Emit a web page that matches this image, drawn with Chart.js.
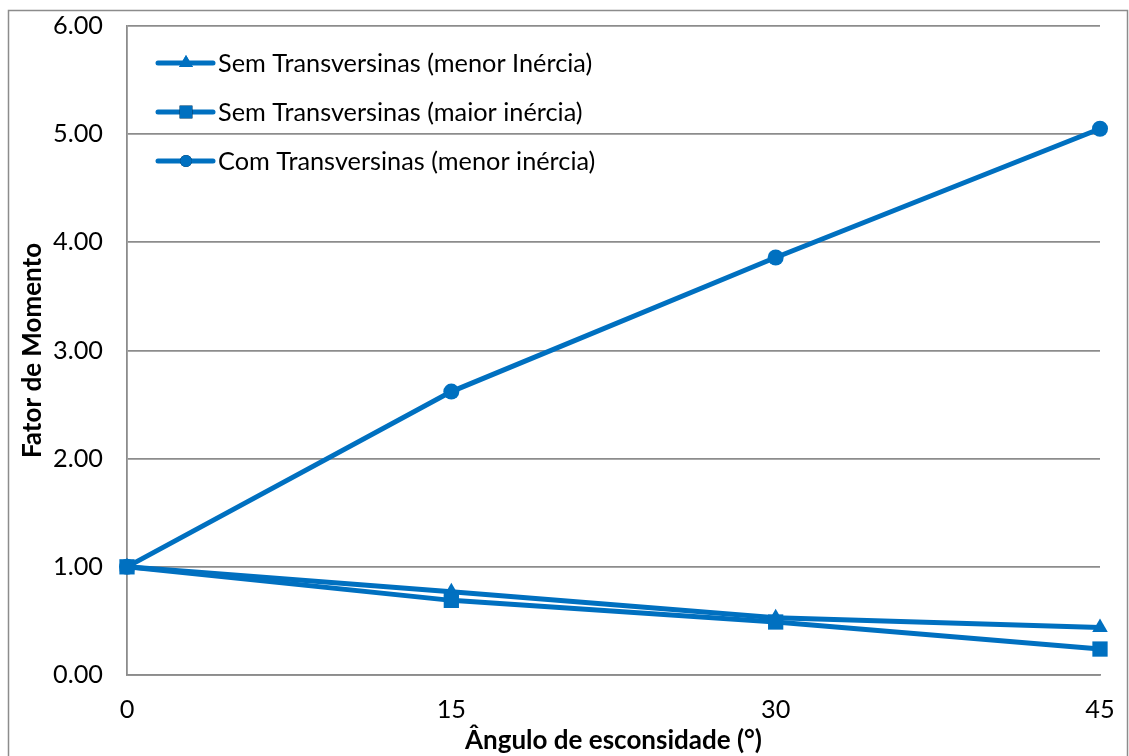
<!DOCTYPE html>
<html>
<head>
<meta charset="utf-8">
<title>Fator de Momento x Ângulo de esconsidade</title>
<style>
  html, body { margin: 0; padding: 0; background: #ffffff; }
  #wrap { width: 1129px; height: 756px; position: relative; }
</style>
<script src="https://cdn.jsdelivr.net/npm/chart.js@4/dist/chart.umd.min.js"></script>
</head>
<body>
<div id="wrap"><canvas id="chart" width="1129" height="756"></canvas></div>
<script>
// Ângulos de esconsidade (graus)
const angles = ['0', '15', '30', '45'];
// Fator de momento por configuração
const semTransvMenor = [1.00, 0.77, 0.53, 0.44];
const semTransvMaior = [1.00, 0.69, 0.49, 0.24];
const comTransvMenor = [1.00, 2.62, 3.86, 5.05];
// Nomes das séries
const seriesNames = [
  'Sem Transversinas (menor Inércia)',
  'Sem Transversinas (maior inércia)',
  'Com Transversinas (menor inércia)'
];
const yMin = 0, yMax = 6, yStep = 1;

const BLUE = '#0070C0';
const GRID = '#8c8c8c';
const CLEAR = 'rgba(0,0,0,0)';
const FONT = 'Lato, "Open Sans", sans-serif';
const TEXT_SIZE = 25.3;
const TITLE_SIZE = 26;

// Moldura externa e fundo branco
const framePlugin = {
  id: 'frame',
  beforeDraw(chart) {
    const ctx = chart.ctx;
    ctx.save();
    ctx.fillStyle = '#ffffff';
    ctx.fillRect(0, 0, chart.width, chart.height);
    ctx.strokeStyle = GRID;
    ctx.lineWidth = 1.5;
    ctx.strokeRect(8.5, 10.5, 1119, 800);
    ctx.restore();
  }
};

// Legenda desenhada dentro da área do gráfico
const insideLegend = {
  id: 'insideLegend',
  afterDatasetsDraw(chart) {
    const ctx = chart.ctx;
    const rows = [63, 112, 161];
    const x0 = 158, x1 = 213, xm = 186, xt = 218;
    ctx.save();
    chart.data.datasets.forEach((ds, i) => {
      const y = rows[i];
      ctx.strokeStyle = ds.borderColor;
      ctx.lineWidth = ds.borderWidth;
      ctx.lineCap = 'round';
      ctx.beginPath();
      ctx.moveTo(x0, y);
      ctx.lineTo(x1, y);
      ctx.stroke();
      Chart.helpers.drawPoint(ctx, {
        pointStyle: ds.pointStyle,
        radius: ds.legendRadius,
        borderWidth: 0,
        rotation: 0
      }, xm, y);
      ctx.fillStyle = ds.pointBackgroundColor;
      ctx.fill();
      ctx.fillStyle = '#000000';
      ctx.font = TEXT_SIZE + 'px ' + FONT;
      ctx.textAlign = 'left';
      ctx.textBaseline = 'middle';
      ctx.fillText(ds.label, xt, y + 1);
    });
    ctx.restore();
  }
};

function makeSeries(label, data, style, radius, legendRadius, order) {
  return {
    label: label,
    data: data,
    borderColor: BLUE,
    backgroundColor: BLUE,
    pointBackgroundColor: BLUE,
    pointBorderColor: BLUE,
    pointBorderWidth: 0,
    borderWidth: 5,
    pointStyle: style,
    pointRadius: radius,
    pointHoverRadius: radius,
    legendRadius: legendRadius,
    tension: 0,
    fill: false,
    clip: false,
    order: order
  };
}

function build() {
  new Chart(document.getElementById('chart'), {
    type: 'line',
    data: {
      labels: angles,
      datasets: [
        makeSeries(seriesNames[0], semTransvMenor, 'triangle', 9, 8, 1),
        makeSeries(seriesNames[1], semTransvMaior, 'rect', 10.8, 9, 0),
        makeSeries(seriesNames[2], comTransvMenor, 'circle', 8, 6, 2)
      ]
    },
    options: {
      responsive: false,
      animation: false,
      events: [],
      layout: { padding: { top: 26, right: 29, left: 0, bottom: 0 } },
      plugins: {
        legend: { display: false },
        tooltip: { enabled: false },
        title: { display: false }
      },
      scales: {
        x: {
          type: 'category',
          offset: false,
          grid: { display: false, drawTicks: true, tickLength: 20, tickColor: CLEAR },
          border: { display: true, color: GRID, width: 1.8 },
          ticks: {
            color: '#000000',
            font: { family: FONT, size: TEXT_SIZE },
            padding: 0,
            maxRotation: 0
          },
          title: {
            display: true,
            text: 'Ângulo de esconsidade (°)',
            color: '#000000',
            font: { family: FONT, size: TITLE_SIZE, weight: 'bold' },
            padding: { top: 0, bottom: 0 }
          },
          afterFit(scale) { scale.height = 81; }
        },
        y: {
          min: yMin,
          max: yMax,
          grid: { color: GRID, lineWidth: 1.8, drawTicks: true, tickLength: 24, tickColor: CLEAR },
          border: { display: true, color: GRID, width: 1.8 },
          ticks: {
            stepSize: yStep,
            color: '#000000',
            font: { family: FONT, size: TEXT_SIZE },
            padding: 0,
            callback: v => Number(v).toFixed(2)
          },
          title: {
            display: true,
            text: 'Fator de Momento',
            color: '#000000',
            font: { family: FONT, size: TITLE_SIZE, weight: 'bold' },
            padding: { top: 17, bottom: 0 }
          },
          afterFit(scale) { scale.width = 127; }
        }
      }
    },
    plugins: [framePlugin, insideLegend]
  });
}

Promise.all([
  document.fonts.load(TEXT_SIZE + 'px Lato'),
  document.fonts.load('bold ' + TITLE_SIZE + 'px Lato')
]).then(build, build);
</script>
</body>
</html>
